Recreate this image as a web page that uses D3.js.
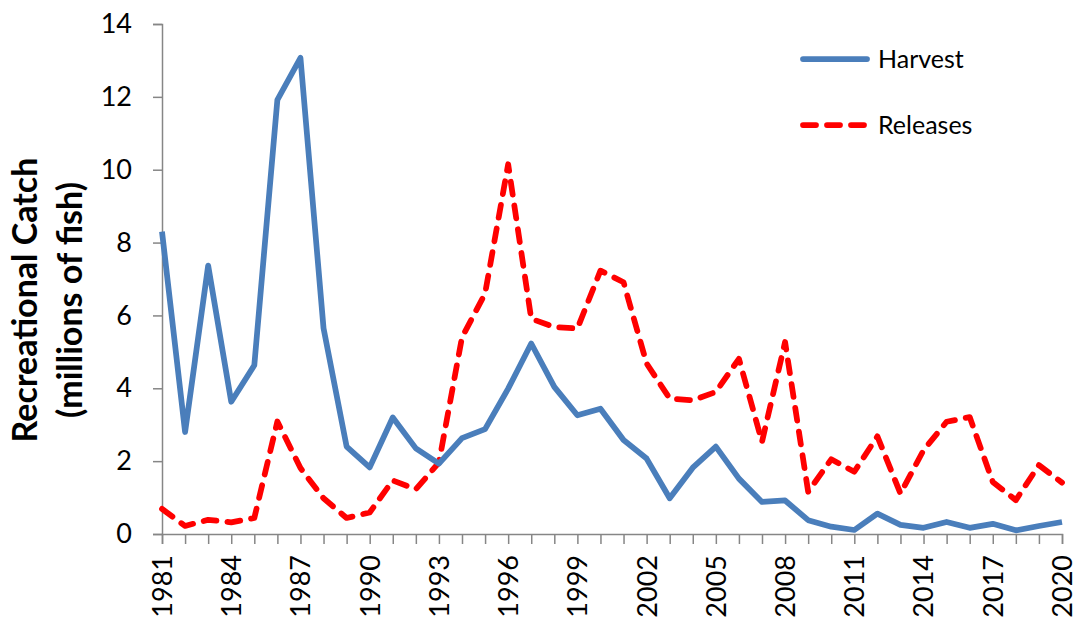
<!DOCTYPE html>
<html>
<head>
<meta charset="utf-8">
<script src="https://cdn.jsdelivr.net/npm/d3@7"></script>
<style>
  body { margin: 0; background: #fff; }
  svg { display: block; font-family: Lato, "Open Sans", sans-serif; }
</style>
</head>
<body>
<div id="chart"></div>
<script>
const years = [1981, 1982, 1983, 1984, 1985, 1986, 1987, 1988, 1989, 1990,
  1991, 1992, 1993, 1994, 1995, 1996, 1997, 1998, 1999, 2000,
  2001, 2002, 2003, 2004, 2005, 2006, 2007, 2008, 2009, 2010,
  2011, 2012, 2013, 2014, 2015, 2016, 2017, 2018, 2019, 2020];

// millions of fish
const harvest = [8.3, 2.8, 7.37, 3.63, 4.63, 11.92, 13.07, 5.65, 2.4, 1.83,
  3.2, 2.35, 1.93, 2.63, 2.88, 3.99, 5.23, 4.04, 3.26, 3.44,
  2.58, 2.07, 0.98, 1.82, 2.4, 1.52, 0.88, 0.92, 0.38, 0.2,
  0.11, 0.56, 0.25, 0.17, 0.33, 0.17, 0.28, 0.1, 0.22, 0.33];

const releases = [0.69, 0.22, 0.39, 0.32, 0.44, 3.09, 1.81, 0.98, 0.44, 0.59,
  1.47, 1.23, 1.96, 5.4, 6.6, 10.15, 5.91, 5.68, 5.64, 7.23,
  6.91, 4.68, 3.72, 3.67, 3.9, 4.81, 2.53, 5.27, 1.16, 2.05,
  1.71, 2.68, 1.11, 2.3, 3.08, 3.21, 1.43, 0.93, 1.89, 1.41];

const yTicks = [0, 2, 4, 6, 8, 10, 12, 14];
const xLabelYears = [1981, 1984, 1987, 1990, 1993, 1996, 1999, 2002, 2005, 2008, 2011, 2014, 2017, 2020];

const width = 1080;
const height = 621;
const margin = { top: 24, right: 18, bottom: 87, left: 162 };

const svg = d3.select("#chart")
  .append("svg")
  .attr("width", width)
  .attr("height", height);

const x = d3.scaleLinear()
  .domain([years[0], years[years.length - 1]])
  .range([margin.left, width - margin.right]);

const y = d3.scaleLinear()
  .domain([0, 14])
  .range([height - margin.bottom, margin.top]);

const axisColor = "#868686";

// y axis
const yAxis = svg.append("g")
  .attr("transform", "translate(" + margin.left + ",0)")
  .call(d3.axisLeft(y).tickValues(yTicks).tickSize(9).tickPadding(21).tickFormat(d3.format("d")));

// x axis - tick at every year, label every third year
const xAxis = svg.append("g")
  .attr("transform", "translate(0," + (height - margin.bottom) + ")")
  .call(d3.axisBottom(x).tickValues(years).tickSize(10).tickFormat((d) => xLabelYears.includes(d) ? d : ""));

[yAxis, xAxis].forEach((g) => {
  g.select(".domain").attr("stroke", axisColor).attr("stroke-width", 1.5);
  g.selectAll(".tick line").attr("stroke", axisColor).attr("stroke-width", 1.5);
  g.selectAll(".tick text")
    .attr("fill", "#000")
    .attr("font-family", "Lato, sans-serif")
    .attr("font-size", "27px");
});

xAxis.selectAll(".tick text")
  .attr("transform", "rotate(-90)")
  .attr("text-anchor", "end")
  .attr("x", -21)
  .attr("y", 0)
  .attr("dy", "0.35em");

// lines
const line = (values) => d3.line()
  .x((d, i) => x(years[i]))
  .y((d) => y(d))(values);

svg.append("path")
  .attr("d", line(releases))
  .attr("fill", "none")
  .attr("stroke", "#ff0000")
  .attr("stroke-width", 5.75)
  .attr("stroke-linecap", "round")
  .attr("stroke-linejoin", "round")
  .attr("stroke-dasharray", "13,11");

svg.append("path")
  .attr("d", line(harvest))
  .attr("fill", "none")
  .attr("stroke", "#4a7ebb")
  .attr("stroke-width", 5.75)
  .attr("stroke-linejoin", "round");

// y axis title
const title = svg.append("text")
  .attr("transform", "translate(0,300) rotate(-90)")
  .attr("text-anchor", "middle")
  .attr("font-family", "Lato, sans-serif")
  .attr("font-weight", "bold")
  .attr("font-size", "34px")
  .attr("fill", "#000");

title.append("tspan").attr("x", 0).attr("y", 37).text("Recreational Catch");
title.append("tspan").attr("x", 0).attr("y", 82).text("(millions of fish)");

// legend
const legend = [
  { name: "Harvest", color: "#4a7ebb", dash: null, cy: 59 },
  { name: "Releases", color: "#ff0000", dash: "13,11", cy: 125 }
];

const lg = svg.append("g");
legend.forEach((d) => {
  lg.append("line")
    .attr("x1", 803).attr("x2", 867)
    .attr("y1", d.cy).attr("y2", d.cy)
    .attr("stroke", d.color)
    .attr("stroke-width", 5.75)
    .attr("stroke-linecap", "round")
    .attr("stroke-dasharray", d.dash);
  lg.append("text")
    .attr("x", 878)
    .attr("y", d.cy + 9)
    .attr("font-family", "Lato, sans-serif")
    .attr("font-size", "25px")
    .attr("fill", "#000")
    .text(d.name);
});
</script>
</body>
</html>
